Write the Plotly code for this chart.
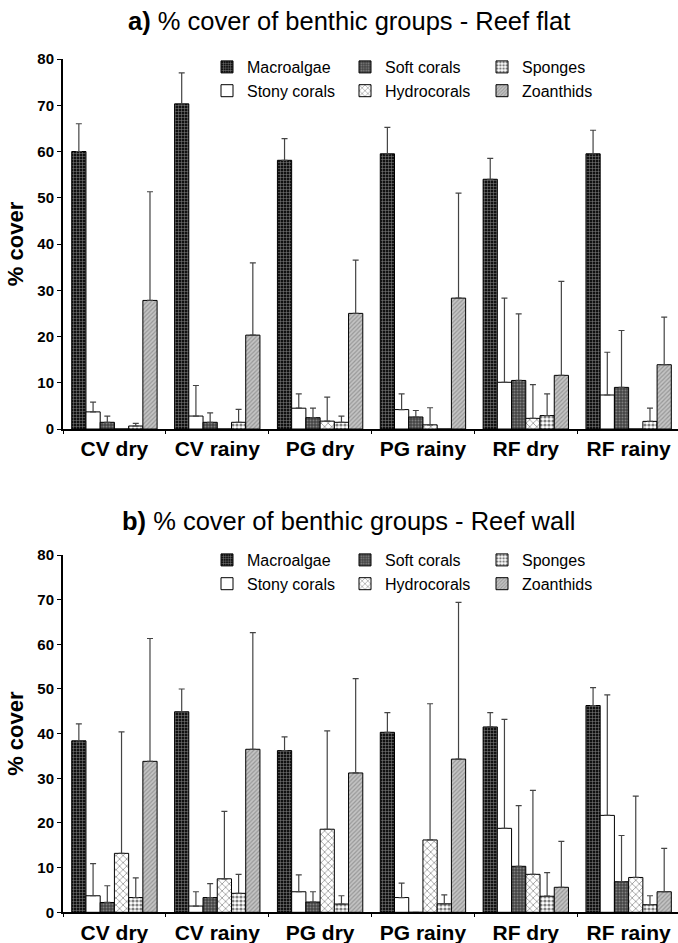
import plotly.graph_objects as go

categories = ["CV dry", "CV rainy", "PG dry", "PG rainy", "RF dry", "RF rainy"]
groups = ["Macroalgae", "Stony corals", "Soft corals", "Hydrocorals", "Sponges", "Zoanthids"]
legend_column = [0, 0, 1, 1, 2, 2]

# Panel a: Reef flat (mean % cover and SD)
flat_macroalgae = [60.0, 70.3, 58.1, 59.5, 54.0, 59.5]
flat_macroalgae_sd = [6.0, 6.7, 4.7, 5.7, 4.5, 5.1]
flat_stony = [3.7, 2.8, 4.5, 4.2, 10.1, 7.35]
flat_stony_sd = [2.1, 6.6, 3.1, 3.4, 18.2, 9.25]
flat_soft = [1.45, 1.45, 2.45, 2.6, 10.5, 9.0]
flat_soft_sd = [1.35, 2.05, 2.05, 1.4, 14.4, 12.3]
flat_hydro = [0, 0, 1.7, 0.9, 2.3, 0]
flat_hydro_sd = [None, None, 5.2, 3.7, 7.3, None]
flat_sponges = [0.65, 1.45, 1.45, 0, 2.9, 1.65]
flat_sponges_sd = [0.55, 2.8, 1.35, None, 4.7, 2.85]
flat_zoanthids = [27.8, 20.3, 25.0, 28.3, 11.6, 13.9]
flat_zoanthids_sd = [23.5, 15.6, 11.5, 22.7, 20.3, 10.3]

# Panel b: Reef wall
wall_macroalgae = [38.4, 44.9, 36.2, 40.3, 41.5, 46.3]
wall_macroalgae_sd = [3.8, 5.1, 3.1, 4.4, 3.2, 4.0]
wall_stony = [3.7, 1.4, 4.6, 3.3, 18.8, 21.7]
wall_stony_sd = [7.2, 3.2, 3.8, 3.25, 24.4, 27.0]
wall_soft = [2.2, 3.3, 2.3, 0, 10.3, 6.85]
wall_soft_sd = [3.75, 3.1, 2.3, None, 13.6, 10.35]
wall_hydro = [13.2, 7.5, 18.6, 16.2, 8.5, 7.8]
wall_hydro_sd = [27.2, 15.1, 22.0, 30.5, 18.8, 18.2]
wall_sponges = [3.3, 4.25, 1.85, 1.9, 3.6, 1.7]
wall_sponges_sd = [4.4, 4.25, 1.85, 2.0, 5.3, 2.0]
wall_zoanthids = [33.8, 36.5, 31.2, 34.3, 5.6, 4.6]
wall_zoanthids_sd = [27.5, 26.1, 21.1, 35.1, 10.3, 9.7]

yticks = [0, 10, 20, 30, 40, 50, 60, 70, 80]

patterns = [
    dict(shape="+", bgcolor="#111111", fgcolor="#ffffff", size=3, solidity=0.3),
    dict(shape="", bgcolor="#ffffff", fgcolor="#ffffff"),
    dict(shape=".", bgcolor="#444444", fgcolor="#bbbbbb", size=3, solidity=0.35),
    dict(shape="x", bgcolor="#ffffff", fgcolor="#333333", size=5, solidity=0.3),
    dict(shape=".", bgcolor="#ffffff", fgcolor="#000000", size=4, solidity=0.5),
    dict(shape="/", bgcolor="#c4c4c4", fgcolor="#6a6a6a", size=3, solidity=0.4),
]

flat = [(flat_macroalgae, flat_macroalgae_sd), (flat_stony, flat_stony_sd), (flat_soft, flat_soft_sd),
        (flat_hydro, flat_hydro_sd), (flat_sponges, flat_sponges_sd), (flat_zoanthids, flat_zoanthids_sd)]
wall = [(wall_macroalgae, wall_macroalgae_sd), (wall_stony, wall_stony_sd), (wall_soft, wall_soft_sd),
        (wall_hydro, wall_hydro_sd), (wall_sponges, wall_sponges_sd), (wall_zoanthids, wall_zoanthids_sd)]

W, H = 678, 943
L = 63
PW = W - L

def legname(k):
    return "legend" if k == 0 else "legend%d" % (k + 1)

fig = go.Figure()
for panel, (data, xa, ya) in enumerate([(flat, "x", "y"), (wall, "x2", "y2")]):
    for i, (vals, sds) in enumerate(data):
        fig.add_trace(go.Bar(
            x=categories, y=vals, name=groups[i], xaxis=xa, yaxis=ya,
            legend=legname(panel * 3 + legend_column[i]),
            marker=dict(color=patterns[i]["bgcolor"], line=dict(color="#000000", width=1),
                        pattern=patterns[i]),
            error_y=dict(type="data", symmetric=False, array=sds, arrayminus=[0] * 6,
                         color="#444444", thickness=1.2, width=3),
        ))

def ydom(p0, p80):
    return [(H - p0) / H, (H - p80) / H]

axis_common = dict(showline=True, linecolor="#000000", linewidth=2, showgrid=False, zeroline=False)
xcommon = dict(type="category", categoryorder="array", categoryarray=categories,
               tickson="boundaries", ticks="outside", ticklen=3, tickcolor="#000000",
               tickfont=dict(family="Arial", size=21, color="#000000", weight="bold"),
               range=[-0.5, 5.48], **axis_common)
ycommon = dict(range=[0, 80], tickvals=yticks, ticks="outside", ticklen=4, tickcolor="#000000",
               tickfont=dict(family="Arial", size=15, color="#000000", weight="bold"),
               title=dict(text="% cover", font=dict(family="Arial", size=22, color="#000000", weight="bold"),
                          standoff=8),
               **axis_common)

legend_x = [207, 345, 482]
legend_top = [50, 543]
legends = {}
for panel in range(2):
    for c in range(3):
        legends[legname(panel * 3 + c)] = dict(
            orientation="v", xref="paper", yref="paper",
            x=(legend_x[c] - L) / PW, y=(H - legend_top[panel]) / H,
            xanchor="left", yanchor="top", tracegroupgap=0,
            font=dict(family="Arial", size=16, color="#000000"),
            bgcolor="rgba(0,0,0,0)", traceorder="normal")

fig.update_layout(
    width=W, height=H,
    margin=dict(l=L, r=0, t=0, b=0, autoexpand=False),
    paper_bgcolor="#ffffff", plot_bgcolor="#ffffff",
    barmode="group", bargap=0.17, bargroupgap=0.0,
    xaxis=dict(anchor="y", domain=[0, 1], **xcommon),
    yaxis=dict(anchor="x", domain=ydom(429, 59), **ycommon),
    xaxis2=dict(anchor="y2", domain=[0, 1], **xcommon),
    yaxis2=dict(anchor="x2", domain=ydom(912.3, 555), **ycommon),
    annotations=[
        dict(text="<b>a)</b> % cover of benthic groups - Reef flat", xref="paper", yref="paper",
             x=(349 - L) / PW, y=(H - 21) / H, xanchor="center", yanchor="middle", showarrow=False,
             font=dict(family="Arial", size=25.5, color="#000000")),
        dict(text="<b>b)</b> % cover of benthic groups - Reef wall", xref="paper", yref="paper",
             x=(349 - L) / PW, y=(H - 521) / H, xanchor="center", yanchor="middle", showarrow=False,
             font=dict(family="Arial", size=25.5, color="#000000")),
    ],
    **legends,
)

fig.write_html("out.html", config={"displayModeBar": False},
               post_script="document.body.style.margin='0';document.body.style.overflow='hidden';")
